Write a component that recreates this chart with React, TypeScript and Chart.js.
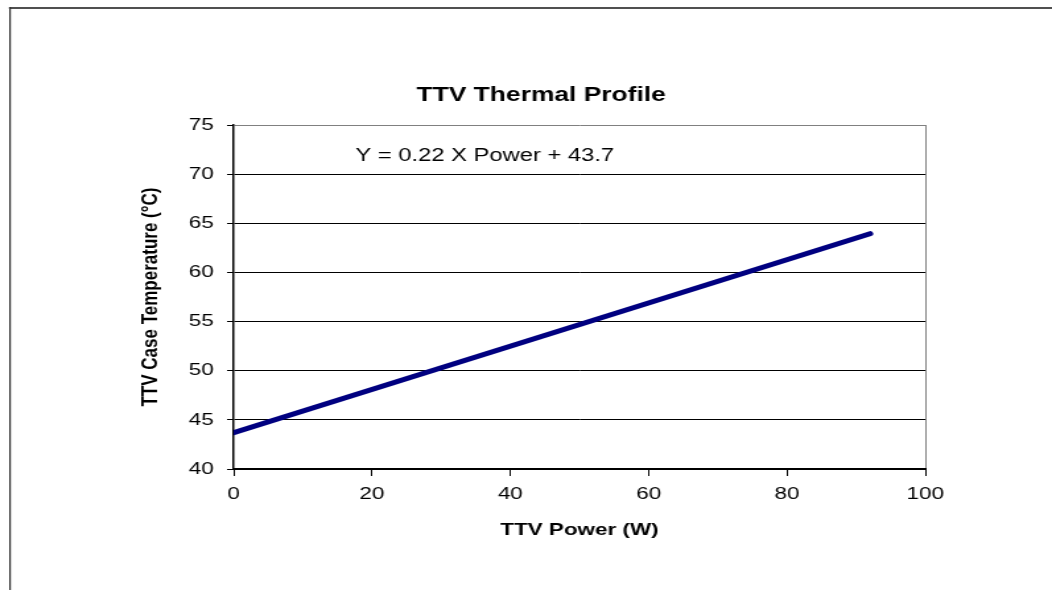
import React, { useEffect, useRef } from "react";
import { Chart, registerables } from "chart.js";

Chart.register(...registerables);

// ---- data ----
const powerW: number[] = [0, 92];
const caseTempC: number[] = [43.7, 63.94];
const xTickStep = 20;
const yTickStep = 5;
const xRange: number[] = [0, 100];
const yRange: number[] = [40, 75];
const chartTitle = "TTV Thermal Profile";
const xTitle = "TTV Power (W)";
const yTitle = "TTV Case Temperature (°C)";
const equationText = "Y = 0.22 X Power + 43.7";
const equationAt: number[] = [17.6, 71.3]; // data coords (x, y) of equation label

// ---- layout (internal canvas is horizontally stretched like the reference) ----
const PAGE_W = 1052;
const PAGE_H = 590;
const INNER_W = 797;
const STRETCH = PAGE_W / INNER_W;
const FONT = "'Liberation Sans', Arial, Helvetica, sans-serif";

const decorPlugin = {
  id: "decor",
  afterDraw(chart: any) {
    const { ctx } = chart;
    ctx.save();
    // outer frame (top and left only)
    ctx.strokeStyle = "#505050";
    ctx.lineWidth = 2;
    ctx.beginPath();
    ctx.moveTo(6.8, 8);
    ctx.lineTo(INNER_W, 8);
    ctx.stroke();
    ctx.strokeStyle = "#303030";
    ctx.lineWidth = 1.2;
    ctx.beginPath();
    ctx.moveTo(7.6, 7);
    ctx.lineTo(7.6, PAGE_H);
    ctx.stroke();
    // title
    ctx.fillStyle = "#000";
    ctx.font = `bold 20px ${FONT}`;
    ctx.textAlign = "center";
    ctx.textBaseline = "alphabetic";
    ctx.fillText(chartTitle, 410, 101);
    // equation
    const xs = chart.scales.x;
    const ys = chart.scales.y;
    ctx.font = `18px ${FONT}`;
    ctx.textAlign = "left";
    ctx.fillText(
      equationText,
      xs.getPixelForValue(equationAt[0]),
      ys.getPixelForValue(equationAt[1])
    );
    ctx.restore();
  },
};

export default function App() {
  const ref = useRef<HTMLCanvasElement | null>(null);

  useEffect(() => {
    if (!ref.current) return;
    const chart = new Chart(ref.current, {
      type: "line",
      data: {
        datasets: [
          {
            label: "TTV",
            data: powerW.map((x, i) => ({ x, y: caseTempC[i] })),
            borderColor: "#000080",
            backgroundColor: "#000080",
            borderWidth: 5,
            borderCapStyle: "round",
            pointRadius: 0,
            tension: 0,
          },
        ],
      },
      options: {
        animation: false,
        responsive: false,
        maintainAspectRatio: false,
        devicePixelRatio: 1,
        layout: { padding: { left: 99, right: 96, top: 125, bottom: 0 } },
        plugins: {
          legend: { display: false },
          title: { display: false },
          tooltip: { enabled: false },
        },
        scales: {
          x: {
            type: "linear",
            min: xRange[0],
            max: xRange[1],
            ticks: {
              stepSize: xTickStep,
              color: "#000",
              padding: 8,
              font: { family: FONT, size: 17 },
              maxRotation: 0,
            },
            grid: {
              drawOnChartArea: true,
              color: (c: any) =>
                c.tick && c.tick.value === xRange[1] ? "#808080" : "rgba(0,0,0,0)",
              tickColor: "#000",
              tickLength: 7,
              lineWidth: 1,
            },
            border: { display: true, color: "#000", width: 2 },
            title: {
              display: true,
              text: xTitle,
              color: "#000",
              font: { family: FONT, size: 17, weight: "bold" },
              padding: { top: 4, bottom: 49 },
            },
            afterFit: (s: any) => {
              s.height = 121;
            },
          },
          y: {
            type: "linear",
            min: yRange[0],
            max: yRange[1],
            ticks: {
              stepSize: yTickStep,
              color: "#000",
              padding: 10,
              font: { family: FONT, size: 17 },
            },
            grid: {
              color: (c: any) =>
                c.tick && c.tick.value === yRange[1] ? "#808080" : "#000",
              tickColor: "#000",
              tickLength: 5,
              lineWidth: 1,
            },
            border: { display: true, color: "#000", width: 1.5 },
            title: {
              display: true,
              text: yTitle,
              color: "#000",
              font: { family: FONT, size: 17, weight: "bold" },
              padding: { top: 5, bottom: 4 },
            },
            afterFit: (s: any) => {
              s.width = 78;
            },
          },
        },
      } as any,
      plugins: [decorPlugin],
    });
    return () => chart.destroy();
  }, []);

  return (
    <div
      style={{
        position: "absolute",
        left: 0,
        top: 0,
        width: PAGE_W,
        height: PAGE_H,
        overflow: "hidden",
        background: "#fff",
      }}
    >
      <div
        style={{
          width: INNER_W,
          height: PAGE_H,
          transform: `scaleX(${STRETCH})`,
          transformOrigin: "0 0",
        }}
      >
        <canvas ref={ref} width={INNER_W} height={PAGE_H} />
      </div>
    </div>
  );
}
